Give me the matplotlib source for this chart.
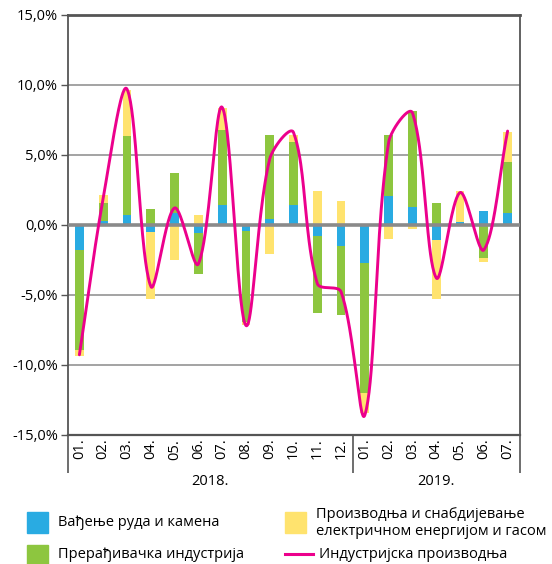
import numpy as np
import matplotlib
matplotlib.use("Agg")
import matplotlib.pyplot as plt
from matplotlib.patches import Rectangle
from matplotlib.lines import Line2D
from matplotlib.ticker import FixedLocator, FuncFormatter

plt.rcParams['font.family'] = ['Open Sans', 'DejaVu Sans']

# months (2018.01 - 2019.07)
months = ['01.', '02.', '03.', '04.', '05.', '06.', '07.', '08.', '09.', '10.', '11.', '12.',
          '01.', '02.', '03.', '04.', '05.', '06.', '07.']
years = ['2018.', '2019.']

# contributions, percentage points
mining = [-1.82, 0.28, 0.71, -0.55, 0.83, -0.57, 1.40, -0.42, 0.43, 1.40,
          -0.83, -1.49, -2.77, 2.08, 1.26, -1.11, 0.17, 0.99, 0.83]
manufacturing = [-7.16, 1.28, 5.62, 1.13, 2.84, -2.93, 5.36, -6.55, 6.02, 4.51,
                 -5.48, -4.96, -9.29, 4.37, 6.90, 1.56, 0.0, -2.36, 3.66]
electricity = [-0.40, 0.57, 3.29, -4.77, -2.53, 0.71, 1.56, -0.19, -2.08, 0.54,
               2.41, 1.70, -1.42, -0.99, -0.28, -4.21, 2.24, -0.31, 2.13]
# total industrial production, %
industry = [-9.3, 1.9, 9.7, -4.4, 1.2, -2.8, 8.4, -7.2, 4.7, 6.6,
            -4.2, -4.8, -13.6, 5.9, 8.0, -3.8, 2.3, -1.8, 6.7]

c_blue = '#29abe2'
c_green = '#8dc63f'
c_yellow = '#ffe36e'
c_pink = '#ec008c'

FS = 10.5


def smooth_line(x, y, sx, sy, n=40):
    # spreadsheet-style smoothed line: bezier segments whose handles
    # are scaled by the on-screen lengths of neighbouring segments
    p = np.column_stack([np.asarray(x, float) * sx, np.asarray(y, float) * sy])
    m = len(p)
    d = np.r_[np.hypot(*(p[1:] - p[:-1]).T)]
    t = np.linspace(0, 1, n, endpoint=False)[:, None]
    out = []
    for i in range(m - 1):
        p1, p2 = p[i], p[i + 1]
        p0 = p[i - 1] if i > 0 else p1
        p3 = p[i + 2] if i + 2 < m else p2
        d0 = d[i - 1] if i > 0 else 0.0
        d1 = d[i]
        d2 = d[i + 1] if i + 2 < m else 0.0
        c1 = p1 + (p2 - p0) * (d1 / (d0 + d1)) / 3 if i > 0 else p1 + (p2 - p1) / 3
        c2 = p2 - (p3 - p1) * (d1 / (d1 + d2)) / 3 if i + 2 < m else p2 - (p2 - p1) / 3
        out.append((1 - t) ** 3 * p1 + 3 * (1 - t) ** 2 * t * c1 + 3 * (1 - t) * t ** 2 * c2 + t ** 3 * p2)
    out.append(p[-1][None, :])
    out = np.vstack(out)
    return out[:, 0] / sx, out[:, 1] / sy


fig = plt.figure(figsize=(5.52, 5.64), dpi=100)
ax = fig.add_axes([67.5 / 552, 1 - 434.5 / 564, (519.5 - 67.5) / 552, (434.5 - 15) / 564])

x = np.arange(len(months))
pos_base = np.zeros(len(x))
neg_base = np.zeros(len(x))
for vals, col in ((mining, c_blue), (manufacturing, c_green), (electricity, c_yellow)):
    v = np.asarray(vals)
    bottom = np.where(v >= 0, pos_base, neg_base)
    ax.bar(x, v, 0.37, bottom=bottom, color=col, zorder=2)
    pos_base += np.clip(v, 0, None)
    neg_base += np.clip(v, None, 0)

# pixel size of one category / one percent, used for the smoothing
lx, ly = smooth_line(x, industry, 452 / 19, 419.5 / 30)
ax.plot(lx, ly, color=c_pink, lw=2.1, zorder=4, solid_capstyle='round')

# grid
for g in (-10, -5, 5, 10):
    ax.axhline(g, color='#8a8a8a', lw=1.1, zorder=1)
ax.axhline(0, color='#8a8a8a', lw=2.6, zorder=3)

ax.set_xlim(-0.5, len(x) - 0.5)
ax.set_ylim(-15, 15)
ax.set_yticks(np.arange(-15, 16, 5))
ax.yaxis.set_major_formatter(FuncFormatter(lambda v, p: ('%.1f%%' % v).replace('.', ',')))
ax.tick_params(axis='y', length=5, width=1, color='#555555', labelsize=FS, pad=2)

ax.set_xticks(x)
ax.set_xticklabels(months, rotation=90, fontsize=FS)
ax.tick_params(axis='x', which='major', length=0, pad=3)
ax.xaxis.set_minor_locator(FixedLocator([-0.5, 11.5, 18.5]))
ax.tick_params(axis='x', which='minor', length=27, width=1.2, color='#555555')

for s in ax.spines.values():
    s.set_color('#555555')
    s.set_linewidth(1.3)
ax.spines['top'].set_linewidth(2.0)
ax.spines['bottom'].set_linewidth(1.6)

for xc, yr in ((5.5, years[0]), (15, years[1])):
    ax.annotate(yr, xy=(xc, 0), xycoords=('data', 'axes fraction'),
                xytext=(0, -47), textcoords='offset pixels',
                ha='center', va='center', fontsize=FS)

# legend
def fy(py):
    return 1 - py / 564

fig.add_artist(Rectangle((27 / 552, fy(533)), 21 / 552, 21 / 564, color=c_blue, transform=fig.transFigure))
fig.text(58 / 552, fy(523), 'Вађење руда и камена', va='center', fontsize=FS)
fig.add_artist(Rectangle((27 / 552, fy(564)), 21 / 552, 19 / 564, color=c_green, transform=fig.transFigure))
fig.text(58 / 552, fy(554), 'Прерађивачка индустрија', va='center', fontsize=FS)
fig.add_artist(Rectangle((285 / 552, fy(533)), 21 / 552, 21 / 564, color=c_yellow, transform=fig.transFigure))
fig.text(316 / 552, fy(523), 'Производња и снабдијевање\nелектричном енергијом и гасом',
         va='center', fontsize=FS, linespacing=1.2)
fig.add_artist(Line2D([285 / 552, 313 / 552], [fy(554), fy(554)], color=c_pink, lw=2.2,
                      transform=fig.transFigure))
fig.text(319 / 552, fy(554), 'Индустријска производња', va='center', fontsize=FS)

fig.savefig('out.png', dpi=100)
